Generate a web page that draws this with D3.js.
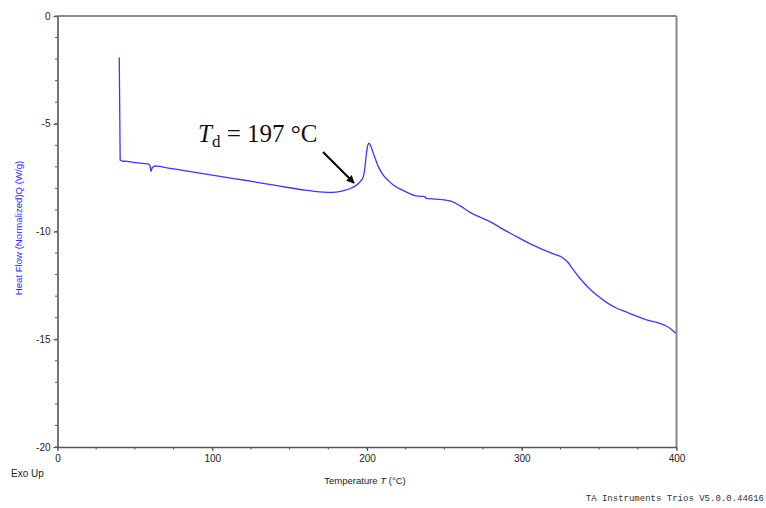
<!DOCTYPE html>
<html>
<head>
<meta charset="utf-8">
<script src="https://cdn.jsdelivr.net/npm/d3@7"></script>
<style>
  body { margin: 0; background: #fff; }
  svg { display: block; }
</style>
</head>
<body>
<svg width="766" height="508"></svg>
<script>
// DSC curve
var temps = [39.9, 40.5, 41.5, 42, 44, 46, 50, 55, 59, 59.8, 60.4, 61.2, 63, 66,
  70, 80, 90, 100, 110, 120, 130, 140, 150, 160, 167.5, 175, 180, 185, 190, 193.3,
  196, 197.6, 198.7, 199.6, 200.5, 201.3, 202.2, 204.1, 207.3, 210.5, 214, 217,
  223.5, 231, 235, 237.5, 238.1, 245, 253.6, 260, 266.6, 272, 279.5, 288, 296.7,
  304, 311.8, 320, 326.9, 330.1, 333, 337.6, 343, 348.4, 355, 361.4, 367, 372.1,
  380.7, 389.3, 395.8, 399.5];
var heatFlow = [-1.92, -6.68, -6.71, -6.75, -6.73, -6.76, -6.80, -6.84, -6.87, -6.95,
  -7.22, -7.05, -6.96, -6.98,
  -7.04, -7.15, -7.27, -7.38, -7.50, -7.61, -7.73, -7.85, -7.97, -8.08, -8.15, -8.18,
  -8.17, -8.10, -7.98, -7.84,
  -7.65, -7.46, -7.0, -6.4, -6.0, -5.9, -6.0, -6.37, -6.99, -7.38, -7.65, -7.84,
  -8.10, -8.33, -8.37, -8.38, -8.46, -8.50, -8.58, -8.80, -9.11, -9.30, -9.54, -9.90,
  -10.24, -10.52, -10.78, -11.03, -11.24, -11.45, -11.75, -12.17, -12.60, -12.95,
  -13.30, -13.56, -13.72, -13.87, -14.10, -14.26, -14.49, -14.72];

var xTicks = [0, 100, 200, 300, 400];
var yTicks = [0, -5, -10, -15, -20];
var xMinor = d3.range(0, 401, 25);
var yMinor = d3.range(-20, 1, 1);

// annotation: label and arrow in data units
var noteLabel = [90.8, -5.86];
var arrowFrom = [171.6, -6.31];
var arrowTo = [191.6, -7.75];

var svg = d3.select("svg");
var pLeft = 57.5, pRight = 676.5, pTop = 16, pBottom = 447;

var x = d3.scaleLinear().domain([0, 400]).range([pLeft, pRight]);
var y = d3.scaleLinear().domain([-20, 0]).range([pBottom, pTop]);

var axisColor = "#555";
var font = "Liberation Sans, Arial, sans-serif";

// frame, top and right are lighter
svg.append("line").attr("x1", pLeft).attr("x2", pRight).attr("y1", pTop).attr("y2", pTop)
  .attr("stroke", "#8a8a8a").attr("stroke-width", 2);
svg.append("line").attr("x1", pRight).attr("x2", pRight).attr("y1", pTop).attr("y2", pBottom)
  .attr("stroke", "#8a8a8a").attr("stroke-width", 2);

// minor ticks
svg.append("g").selectAll("line").data(xMinor).enter().append("line")
  .attr("x1", d => x(d)).attr("x2", d => x(d))
  .attr("y1", pBottom).attr("y2", pBottom + 2.5)
  .attr("stroke", axisColor).attr("stroke-width", 1);
svg.append("g").selectAll("line").data(yMinor).enter().append("line")
  .attr("x1", pLeft - 2.5).attr("x2", pLeft)
  .attr("y1", d => y(d)).attr("y2", d => y(d))
  .attr("stroke", axisColor).attr("stroke-width", 1);

var xAxis = svg.append("g")
  .attr("transform", "translate(0," + pBottom + ")")
  .call(d3.axisBottom(x).tickValues(xTicks).tickSize(4).tickPadding(4).tickSizeOuter(0));
var yAxis = svg.append("g")
  .attr("transform", "translate(" + pLeft + ",0)")
  .call(d3.axisLeft(y).tickValues(yTicks).tickSize(4).tickPadding(3).tickSizeOuter(0)
    .tickFormat(d3.format("d")));

[xAxis, yAxis].forEach(function(a) {
  a.select(".domain").attr("stroke", axisColor).attr("stroke-width", 1.6);
  a.selectAll(".tick line").attr("stroke", axisColor).attr("stroke-width", 1.2);
  a.selectAll("text").attr("fill", "#222").style("font-family", font).style("font-size", "10px");
});
yAxis.selectAll("text").text(d => d === 0 ? "0" : "-" + Math.abs(d));

// curve
var line = d3.line()
  .x((d, i) => x(temps[i]))
  .y(d => y(d))
  .curve(d3.curveMonotoneX);

svg.append("path")
  .datum(heatFlow)
  .attr("d", line)
  .attr("fill", "none")
  .attr("stroke", "#3a3aff")
  .attr("stroke-width", 1.3);

// axis titles
svg.append("text")
  .attr("transform", "translate(22,228) rotate(-90)")
  .attr("text-anchor", "middle")
  .style("font-family", font).style("font-size", "9.6px")
  .attr("fill", "#2a2aff")
  .text("Heat Flow (Normalized)Q  (W/g)");

var xt = svg.append("text")
  .attr("x", (pLeft + pRight) / 2 - 2).attr("y", 484)
  .attr("text-anchor", "middle")
  .style("font-family", font).style("font-size", "9.5px")
  .attr("fill", "#222");
xt.append("tspan").text("Temperature ");
xt.append("tspan").style("font-style", "italic").text("T");
xt.append("tspan").text(" (°C)");

svg.append("text")
  .attr("x", 11).attr("y", 477)
  .style("font-family", font).style("font-size", "10px")
  .attr("fill", "#222")
  .text("Exo Up");

svg.append("text")
  .attr("x", 764).attr("y", 501)
  .attr("text-anchor", "end")
  .style("font-family", "Liberation Mono, monospace").style("font-size", "9px")
  .attr("fill", "#333")
  .text("TA Instruments Trios V5.0.0.44616");

// annotation
var note = svg.append("text")
  .attr("x", x(noteLabel[0])).attr("y", y(noteLabel[1]))
  .style("font-family", "Liberation Serif, Times New Roman, serif")
  .style("font-size", "25px")
  .attr("fill", "#111");
note.append("tspan").style("font-style", "italic").text("T");
note.append("tspan").attr("dy", 4.5).style("font-size", "17px").text("d");
note.append("tspan").attr("dy", -4.5).text(" = 197 °C");

svg.append("defs").append("marker")
  .attr("id", "head")
  .attr("viewBox", "0 0 10 10")
  .attr("refX", 9).attr("refY", 5)
  .attr("markerWidth", 4).attr("markerHeight", 4)
  .attr("orient", "auto")
  .append("path").attr("d", "M0,0L10,5L0,10z").attr("fill", "#000");

svg.append("line")
  .attr("x1", x(arrowFrom[0])).attr("y1", y(arrowFrom[1]))
  .attr("x2", x(arrowTo[0])).attr("y2", y(arrowTo[1]))
  .attr("stroke", "#000").attr("stroke-width", 2)
  .attr("marker-end", "url(#head)");
</script>
</body>
</html>
